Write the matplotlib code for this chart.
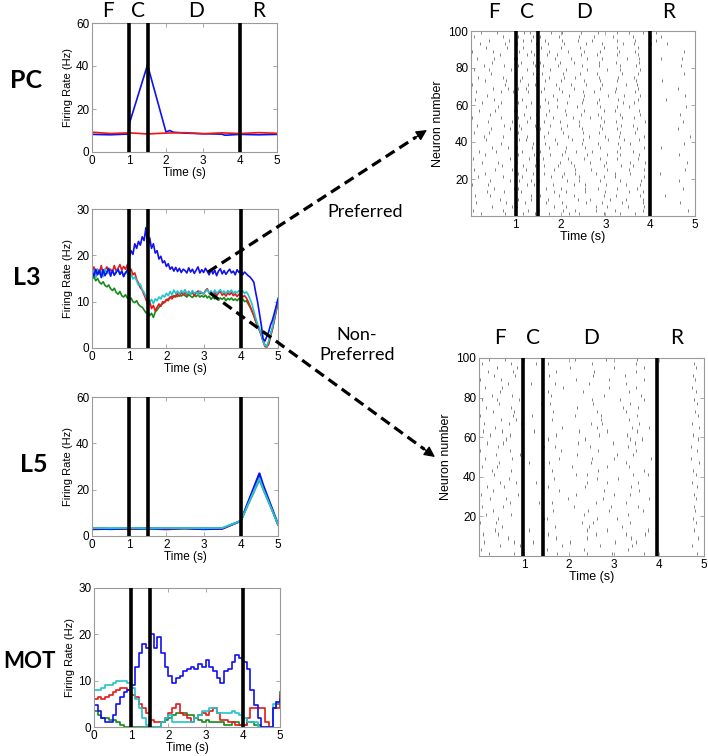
import numpy as np
import matplotlib
matplotlib.use('Agg')
import matplotlib.pyplot as plt
from matplotlib.lines import Line2D
from matplotlib.patches import FancyArrowPatch

plt.rcParams['font.family'] = ['Liberation Sans', 'DejaVu Sans']

# ---------------- DATA ----------------
EPOCH_LABELS = ['F', 'C', 'D', 'R']
EPOCH_LINES = [1.0, 1.5, 4.0]
EPOCH_LINES_NONPREF = [0.97, 1.43, 3.95]
ROW_LABELS = ['PC', 'L3', 'L5', 'MOT']

# PC panel (firing rate, Hz)
pc_t_blue = [0, 0.5, 0.9, 1.0, 1.0, 1.5, 2.0, 2.1, 2.2, 2.5, 3.0, 3.5, 3.6, 3.8, 4.0, 4.5, 5.0]
pc_blue = [8.2, 8.0, 8.3, 8.2, 12.7, 40.5, 9.3, 10.0, 9.2, 8.8, 8.5, 8.3, 7.8, 8.0, 8.2, 8.0, 8.2]
pc_t_red = [0, 0.5, 1.0, 1.5, 2.0, 2.5, 3.0, 3.5, 4.0, 4.5, 5.0]
pc_red = [9.2, 8.6, 8.9, 8.4, 8.8, 9.0, 8.5, 8.9, 8.6, 9.0, 8.7]

# L3 panel, sampled every 0.05 s from 0 to 5 s
l3_blue = [16.5, 15.5, 17, 15.8, 16.8, 15.2, 16.9, 15.6, 16.4, 17.2, 15.5, 16.8, 15.7, 16.3, 17, 15.9, 16.6, 15.4, 16.2, 16.8,
           19.5, 21, 20.2, 22.5, 21.5, 23, 22.2, 24, 23.2, 26,
           21.5, 23.8, 21.5, 22.5, 20.5, 21, 19.2, 19.8, 18.4, 18.8,
           17.6, 18.2, 17, 17.5, 16.6, 17.4, 16.5, 17.2, 16.3, 17, 16.7, 16.2, 17.3, 16.4, 17, 16.1, 16.8, 17.5, 16.2, 16.9,
           16.3, 17.2, 16.5, 15.8, 17, 16, 16.8, 15.6, 16.6, 17.1, 16, 16.7, 15.9, 16.5, 17, 16.2, 16.6, 15.8, 16.9, 16.3,
           16.8, 15.8, 16.4, 16.0, 15.6, 15.3, 14.8, 14.2, 12, 10, 7.5, 5, 2, 1.5, 2.5, 3.5, 5, 6, 7.5, 9, 10.5]
l3_red = [16, 17.5, 15.5, 17, 16.2, 17.8, 15.8, 16.9, 17.5, 16.2, 17, 16.4, 17.8, 16.5, 17.2, 18, 16.8, 17.6, 17, 18,
          16.5, 17, 15.8, 16.2, 14.8, 14, 13, 12.5, 11.5, 10.5,
          9.5, 10.2, 8.5, 9.2, 8, 8.8, 9.5, 9, 10, 9.8,
          10.5, 10.2, 11, 10.6, 11.3, 11, 11.8, 11.2, 12, 11.5, 11.9, 11.4, 12.2, 11.6, 12, 11.3, 11.9, 12.3, 11.7, 12,
          11.6, 12.4, 12.8, 11.8, 12.2, 11.5, 12, 11.3, 11.9, 12.2, 11.4, 11.8, 11.2, 11.9, 11.5, 12, 11.3, 11.7, 11.1, 11.6,
          11.5, 11, 11.3, 10.8, 10, 9, 8, 7, 5.8, 4.8, 4, 2.8, 1.4, 0.3, 0.2, 0.8, 2.5, 4, 6, 8, 10]
l3_cyan = [15.5, 16.8, 15.2, 17, 15.9, 16.6, 15.4, 17.1, 16, 16.7, 15.6, 16.9, 15.8, 16.5, 17, 15.9, 16.6, 15.5, 16.4, 16.1,
           15.6, 16, 14.9, 15.3, 14.5, 13.5, 13.8, 12.5, 12, 11,
           10.5, 9.8, 10.5, 9.6, 10.6, 10.2, 11, 10.6, 11.4, 11,
           11.8, 11.3, 12.2, 11.5, 12.5, 11.8, 12.3, 11.6, 12.4, 11.9, 12.6, 11.7, 12.2, 11.6, 12.4, 11.8, 12.1, 11.5, 12.3, 11.9,
           11.7, 12.2, 12.6, 11.9, 12.3, 11.6, 12.5, 11.8, 12.2, 12.6, 11.9, 12.3, 11.7, 12.4, 12, 12.5, 11.8, 12.2, 11.9, 12.4,
           12, 12.3, 11.8, 12.1, 11.5, 10.5, 9.5, 8, 6.5, 5.2, 4.2, 3, 1.5, 0.5, 0.4, 1.5, 3, 4.5, 6.5, 8.5, 10.8]
l3_green = [14.8, 15.4, 14.5, 15, 14.2, 13.8, 14.3, 13.5, 13.2, 13.6, 12.8, 12.4, 12.9, 12, 11.6, 12.2, 11.3, 11, 11.5, 10.8,
            10.4, 10.8, 10, 9.8, 10.2, 9.4, 9, 8.8, 8.2, 7.6,
            7.8, 7, 7.5, 6.6, 7.8, 8.2, 8.8, 9.2, 9.6, 9.9,
            10.3, 10.6, 10.9, 11.2, 11, 11.4, 11.1, 11.5, 11.2, 11.6, 11.3, 11, 11.5, 11.2, 10.9, 11.4, 11.1, 11.5, 11, 11.3,
            11, 11.4, 10.8, 11.2, 10.5, 11, 10.6, 10.9, 10.3, 10.8, 10.5, 10.9, 10.2, 10.7, 10.4, 10.8, 10.3, 10.6, 10.2, 10.7,
            10.4, 10.6, 10, 10.2, 9.5, 8.8, 8, 7, 5.8, 4.8, 3.8, 2.8, 1.5, 0.6, 0.4, 1.2, 2.8, 4.2, 6, 8, 9.5]

# L5 panel
l5_t = [0, 0.5, 1.0, 1.5, 2.0, 2.5, 3.0, 3.5, 4.0, 4.5, 4.6, 5.0]
l5_red = [2.8, 3.0, 2.9, 3.1, 2.8, 3.2, 2.9, 3.0, 6.5, 26, 21, 5]
l5_blue = [3.2, 3.0, 3.3, 3.1, 3.2, 3.3, 3.0, 3.2, 6.5, 27, 22, 5]
l5_green = [3.5, 3.4, 3.3, 3.5, 3.4, 3.3, 3.5, 3.4, 6.5, 24, 20, 5]
l5_cyan = [3.4, 3.3, 3.5, 3.2, 3.4, 3.5, 3.3, 3.5, 6.5, 25, 20.5, 5]

# MOT panel, step values every 0.1 s from 0 to 5 s
mot_blue = [4.7, 3.5, 2.0, 1.1, 1.1, 2.5, 5, 6.5, 7.5, 8, 9, 13, 16, 18, 17, 20, 17, 19.5, 16, 13,
            11, 9.4, 10.5, 11, 12, 12.5, 13, 12.5, 13.5, 13, 14.5, 13, 12, 10.5, 9.4, 12, 12.5, 14, 15.5, 15,
            14, 12.5, 8, 4.7, 2, 0, 0, 0, 4, 5.5, 6]
mot_red = [6, 6.5, 6, 6.5, 7, 7.5, 8, 8.5, 8.5, 8, 7, 6.5, 5, 4, 3, 1.5, 1, 1, 1, 2,
           3, 4, 5, 3, 2.5, 2, 1, 2, 2.5, 3, 2.5, 3.5, 4, 3, 1.5, 1.5, 1, 1, 0.5, 0.5,
           0.5, 2, 4, 4, 4, 4, 1, 0, 4, 4, 7]
mot_cyan = [8, 8, 8.5, 9, 9, 9.5, 10, 10, 10, 9.5, 8.5, 6, 4, 2, 0.5, 0, 0, 0, 1, 2,
            2.5, 1, 1, 1, 1, 1, 1, 2, 2.5, 3.5, 3.5, 4, 4, 3, 3, 3, 3, 3.5, 3, 2.5,
            2, 1, 1, 1, 0, 0, 0, 0, 5, 5.5, 6]
mot_green = [3.5, 2.5, 2, 2, 1.5, 1.5, 1, 0.5, 0, 0, 0, 0, 0, 0, 0, 0, 0, 0, 1, 1.5,
             2, 2.5, 3, 3, 3, 2.5, 2.5, 2, 1.5, 1, 1.5, 1, 1, 1, 1, 0.5, 0.5, 1, 1, 0.5,
             0.5, 1, 1, 0.5, 0.5, 0, 0, 0, 4, 5, 7.5]

# Raster spikes: each row = 2 neurons (1-2, 3-4, ...), segments F(0-1s) C(1-1.5s) D(1.5-4s) R(4-5s)
# each char is a 0.1 s bin; a digit d marks a spike at bin_start + d*0.01 s
raster_pref = [
    "..3....7.. .5..2 ..4...8..1....6...3..7... ..........",
    "5......2.. ..8.. 1....6..3...9....2.....5.. ........4.",
    "....6....1 3...7 ...5..2.....8..4....1..6. ..........",
    ".2.....8.. ..1.. .7...3....6...2...8....4. ......6...",
    "......4... 6..3. ..2.....9..5....1..7...3. ..........",
    "8...2..... ...5. 4...7...1.....6..3....8.. ...2......",
    "...5...3.. .2..9 ...6..1...4...8.....2..5. ..........",
    ".....1...6 4.... .8...2....5..3...7....1.. .......3..",
    "2..7...... ..6.1 ...3...9..4....2...6..8.. ..........",
    "....3...8. 7..4. 1.....5..2...7....3...9.. ......5...",
    ".6.....2.. .3... ..8..4...1....6..2.....7. ..........",
    "...1...... 5..8. .4...7..3...9....1..5.... ..1.......",
    "7....4...2 ..2.. ...6....2..8...4....3..6. .......7..",
    "......9... .7..3 .2..5...1.....7...4..2... ..........",
    "..4...1... 3.... ....8..3...6...1....5..8. ........2.",
    "5.......7. ..9.4 .1....6...2..9...5....3.. ..........",
    "...2...... 6...1 ..7..3....8....4..2...6.. ......4...",
    ".8...5.... .4... 3....9..5...1....7...2... ..........",
    "....7...3. 2..6. ..5...1...4..8....3....7. ..3.......",
    "1.....6... ...8. .6..2....7...3...9..4.... .......6..",
    "...4...... 7.3.. ...8...5..1....6...2..5.. ..........",
    "..9....2.. ..5.9 .3....7....4..8...1....6. ........8.",
    "6...1..... 4.... ..2..6...9...5....3..7... ..........",
    "....5...7. .1..6 5....2...8....3..6....1.. ......2...",
    ".3.....4.. 8...2 ..7...4..1...9....5..2... ..........",
    "...7.....1 ..6.. .4..8....2....6..3.....9. .......4..",
    "2.....8... 5..1. ...3...7...5..1...8..4... ..........",
    "....2..... .9..4 .8....1..6...4....2...7.. ......7...",
    ".7...3...6 3.... ..5..9....3...7..1....6.. ..........",
    "......1... ..2.8 4...2...6....8...5..3.... ........1.",
    "..5...8... 6..4. ..1...5..7...2....9..4... ..........",
    "8....2.... .3..7 .6..3.....1..5...8....2.. ...5......",
    "...6...... 2...9 ...4..8...2....6...1..7.. .......8..",
    ".1....7..4 ..8.. 7....3...9..4....2...5... ..........",
    "....9...2. 5.3.. .2..6...1....8...4....3. ......3...",
    "3......5.. ..7.2 ...9...4..6...2....7..1.. ..........",
    "...2...8.. 9.... .5...1....3..7...6...8... ..6.......",
    ".6.....1.. .4..6 ..3..7..2....5...9...4.. ..........",
    "....4..... 1..8. 8....5...3...1....6...2. .......5..",
    "7...1...9. ..5.. ..6...2...8....4..3...7.. ..........",
    "..8....3.. 6...3 .1..4....7...5....2..9... ......9...",
    "....6..... .2.9. 4...8...1....6...3....5.. ..........",
    ".4...2...7 3.... ...7...3..9...2....8..4.. ..4....2..",
    "......5... ..6.1 .9..2....5...1...7....3.. ..........",
    "2...8..... 8..4. ..4...6...2..8....1..6... .......6..",
    "...3....1. .5..7 6....1...4....7..5....2.. ..........",
    ".9.....6.. 2...5 ..2..8....6...3...9..4... 1..8......",
    "....1...4. .7.3. .5...3..9...1....6...7.. .3........",
    "6......2.. 4..8. 3...7....2..5...8....1... 2.5.......",
    "..2..7.... .9.2. ..8..4...6...3...7..2..5. .4........",
]
raster_nonpref = [
    "..3....7.. ..... ..4......1....6......7... ........4.",
    "5......... ..... 1.......3.........2...... ..........",
    "....6....1 ..... ...5.......8.......1..... .......3..",
    ".2.....8.. ..1.. .....3.........2...8.... ..........",
    "......4... ..... ..2.....9.........7..... ........6.",
    "8...2..... ..... 4..........1.....6...8.. ..........",
    "...5...... .2... .........1...4........5. .......7..",
    ".....1...6 ..... .8.......5......7....... ..........",
    "2..7...... ..... .......9..4.......6..... ........2.",
    "....3..... ....4 1..........2...7........ .......5..",
    ".6.....2.. ..... ........4.........2..... ..........",
    "...1...... ..... .4.......3...9.......5... ........1.",
    "7....4.... ..... ......2.......4.....3... .......7..",
    "......9... ...3. .2.........1.....7...... ..........",
    "..4...1... ..... ....8.......6.........8. ........2.",
    "5.......7. ..... ......6.......9...5..... .......8..",
    "...2...... ..... ..7.........8.......6... ..........",
    ".8...5.... ..... 3.......5.........7..... ........5.",
    "....7...3. ..6.. .........1...4......3... .......4..",
    "1.....6... ..... .6.........3...9........ ..........",
    "...4...... ..... ......5..1.........2..5. ........3.",
    "..9....2.. ..... .3.........4.........6.. .......6..",
    "6...1..... ..... .....6.......5....3..... ..........",
    "....5..... .1... 5........8.......6...... ........9.",
    ".3.....4.. ..... ..7.......1...9........2 .......1..",
    "...7.....1 ..... ......8........6...3.... ..........",
    "2.....8... ..... ...3.......5.......8.... ........4.",
    "....2..... ....4 .8.......6........2..... .......2..",
    ".7...3...6 ..... ......9.......7....6... ..........",
    "......1... ..... 4.......6.........5..3.. ........7.",
    "..5...8... ..... ..1........7.....9...... .......5..",
    "8....2.... ..3.. .......3.....5......2... ..........",
    "...6...... ..... ...4.......2.......1..7. ........8.",
    ".1....7..4 ..... .........9..4.......5... .......3..",
    "....9...2. ..... .2..........1.....4..... ..........",
    "3......5.. .7... ......4.....2.......1... ........6.",
    "...2...8.. ..... .5.........3.....6...... .......9..",
    ".6.....1.. ..... ......7.........9...4... ..........",
    "....4..... ...8. 8.........3.......6..... ........5.",
    "7...1...9. ..... ..........2.....4....7.. .......7..",
    "..8....3.. ..... .1..........7.......9... ..........",
    "....6..... ..... 4.......1.........3..... ........2.",
    ".4...2...7 ..... ...7.........9.....8.... .......4..",
    "......5... .6... .9.......5.......7...... ..........",
    "2...8..... ..... ......6......8.......6.. ........1.",
    "...3....1. ..... 6.........4......5...... .......6..",
    ".9.....6.. ..... ..2.......6........9.... ..........",
    "....1...4. ..... .....3.........1.....7.. ........3.",
    "6......2.. ..7.. 3.........2........8.... .......8..",
    "..2..7.... ..... ......4......3......2... ..........",
]

# ---------------- FIGURE ----------------
W, H = 708, 756
fig = plt.figure(figsize=(W / 100, H / 100), dpi=100)

BLUE = '#1010f0'
RED = '#e81818'
GREEN = '#188a18'
CYAN = '#22c4cc'
SPINE = '#9a9a9a'
LABEL_FONT = ['Lato', 'DejaVu Sans']


def px_axes(x0, y0, x1, y1):
    return fig.add_axes([x0 / W, 1 - y1 / H, (x1 - x0) / W, (y1 - y0) / H])


def style_rate(ax, ymax, yticks):
    ax.set_xlim(0, 5)
    ax.set_ylim(0, ymax)
    ax.set_xticks(range(6))
    ax.set_yticks(yticks)
    for s in ax.spines.values():
        s.set_color(SPINE)
        s.set_linewidth(0.8)
    ax.tick_params(direction='in', length=3, width=0.6, color=SPINE,
                   labelsize=8.5, pad=2, top=True, right=True)
    ax.set_xlabel('Time (s)', fontsize=8.5, labelpad=0)
    ax.set_ylabel('Firing Rate (Hz)', fontsize=8, labelpad=2)
    for xl in EPOCH_LINES:
        ax.axvline(xl, color='black', lw=2.6, zorder=5)


t05 = np.linspace(0, 5, 101)
t10 = np.linspace(0, 5, 51)

# PC
ax_pc = px_axes(92, 23, 277, 152)
ax_pc.plot(pc_t_blue, pc_blue, color=BLUE, lw=1.2)
ax_pc.plot(pc_t_red, pc_red, color=RED, lw=1.2)
style_rate(ax_pc, 60, [0, 20, 40, 60])
for lab, xd in zip(EPOCH_LABELS, [0.43, 1.24, 2.81, 4.49]):
    ax_pc.text(xd, 1.09, lab, transform=ax_pc.get_xaxis_transform(),
               ha='center', va='center', fontsize=15, family=LABEL_FONT)

# L3
ax_l3 = px_axes(92, 209, 278, 348)
ax_l3.plot(t05, l3_green, color=GREEN, lw=1.2)
ax_l3.plot(t05, l3_red, color=RED, lw=1.2)
ax_l3.plot(t05, l3_cyan, color=CYAN, lw=1.2)
ax_l3.plot(t05, l3_blue, color=BLUE, lw=1.2)
style_rate(ax_l3, 30, [0, 10, 20, 30])

# L5
ax_l5 = px_axes(92, 397, 278, 536)
ax_l5.plot(l5_t, l5_red, color=RED, lw=1.2)
ax_l5.plot(l5_t, l5_blue, color=BLUE, lw=1.6)
ax_l5.plot(l5_t, l5_green, color='#4a9a90', lw=1.2)
ax_l5.plot(l5_t, l5_cyan, color=CYAN, lw=1.2)
style_rate(ax_l5, 60, [0, 20, 40, 60])

# MOT
ax_mot = px_axes(94, 588, 280, 727)
ax_mot.plot(t10, mot_green, color=GREEN, lw=1.2, drawstyle='steps-post')
ax_mot.plot(t10, mot_red, color=RED, lw=1.2, drawstyle='steps-post')
ax_mot.plot(t10, mot_cyan, color=CYAN, lw=1.2, drawstyle='steps-post')
ax_mot.plot(t10, mot_blue, color=BLUE, lw=1.2, drawstyle='steps-post')
style_rate(ax_mot, 30, [0, 10, 20, 30])

# row labels (left edge x, centre y, font size) in pixels
for lab, (lx, cy, fs) in zip(ROW_LABELS, [(10, 80, 18), (13, 278, 18), (20, 465, 18), (3, 662, 16)]):
    fig.text(lx / W, 1 - cy / H, lab, ha='left', va='center', fontsize=fs,
             fontweight='bold', family=LABEL_FONT)


def parse_raster(rows):
    seg_len = [10, 5, 25, 10]
    times, ys = [], []
    for i, row in enumerate(rows):
        segs = row.split(' ')
        s = ''.join(seg.ljust(n, '.')[:n] for seg, n in zip(segs, seg_len))
        for b, ch in enumerate(s):
            if ch.isdigit():
                times.append(b * 0.1 + int(ch) * 0.01)
                ys.append(2 * i)
    return np.array(times), np.array(ys)


def raster(ax, rows, lines, label_x):
    tt, yy = parse_raster(rows)
    ax.vlines(tt, yy + 0.3, yy + 1.9, color='#6e6e6e', lw=0.6)
    for xl in lines:
        ax.axvline(xl, color='black', lw=2.6, zorder=5)
    ax.set_xlim(0, 5)
    ax.set_ylim(0, 100)
    ax.set_xticks([1, 2, 3, 4, 5])
    ax.set_yticks([20, 40, 60, 80, 100])
    for s in ax.spines.values():
        s.set_color(SPINE)
        s.set_linewidth(0.8)
    ax.tick_params(direction='in', length=3, width=0.6, color=SPINE,
                   labelsize=8.5, pad=2, top=True, right=True)
    ax.set_xlabel('Time (s)', fontsize=9, labelpad=0)
    ax.set_ylabel('Neuron number', fontsize=9, labelpad=3)
    for lab, xd in zip(EPOCH_LABELS, label_x):
        ax.text(xd, 1.1, lab, transform=ax.get_xaxis_transform(),
                ha='center', va='center', fontsize=15, family=LABEL_FONT)


ax_r1 = px_axes(471, 31, 695, 216)
raster(ax_r1, raster_pref, EPOCH_LINES, [0.51, 1.25, 2.52, 4.41])
ax_r2 = px_axes(479, 358, 704, 556)
raster(ax_r2, raster_nonpref, EPOCH_LINES_NONPREF, [0.47, 1.2, 2.5, 4.4])

# annotations
fig.text(365 / W, 1 - 212 / H, 'Preferred', ha='center', va='center', fontsize=13,
         family=LABEL_FONT)
fig.text(357 / W, 1 - 345 / H, 'Non-\nPreferred', ha='center', va='center', fontsize=13,
         family=LABEL_FONT, linespacing=1.25)


def dashed_arrow(p0, p1, head=15):
    p0 = np.array(p0, float)
    p1 = np.array(p1, float)
    d = p1 - p0
    u = d / np.hypot(*d)
    base = p1 - u * head
    to_fig = lambda p: (p[0] / W, 1 - p[1] / H)
    a, b = to_fig(p0), to_fig(base + u * 2)
    fig.add_artist(Line2D([a[0], b[0]], [a[1], b[1]], color='black', lw=2.3,
                          linestyle=(0, (3.3, 1.8)), transform=fig.transFigure))
    fig.add_artist(FancyArrowPatch(to_fig(base), to_fig(p1), transform=fig.transFigure,
                                   arrowstyle='-|>', mutation_scale=16, color='black',
                                   lw=1.0, shrinkA=0, shrinkB=0))


dashed_arrow((208, 272), (427, 130))
dashed_arrow((210, 293), (435, 457))

fig.savefig('out.png', dpi=100)
